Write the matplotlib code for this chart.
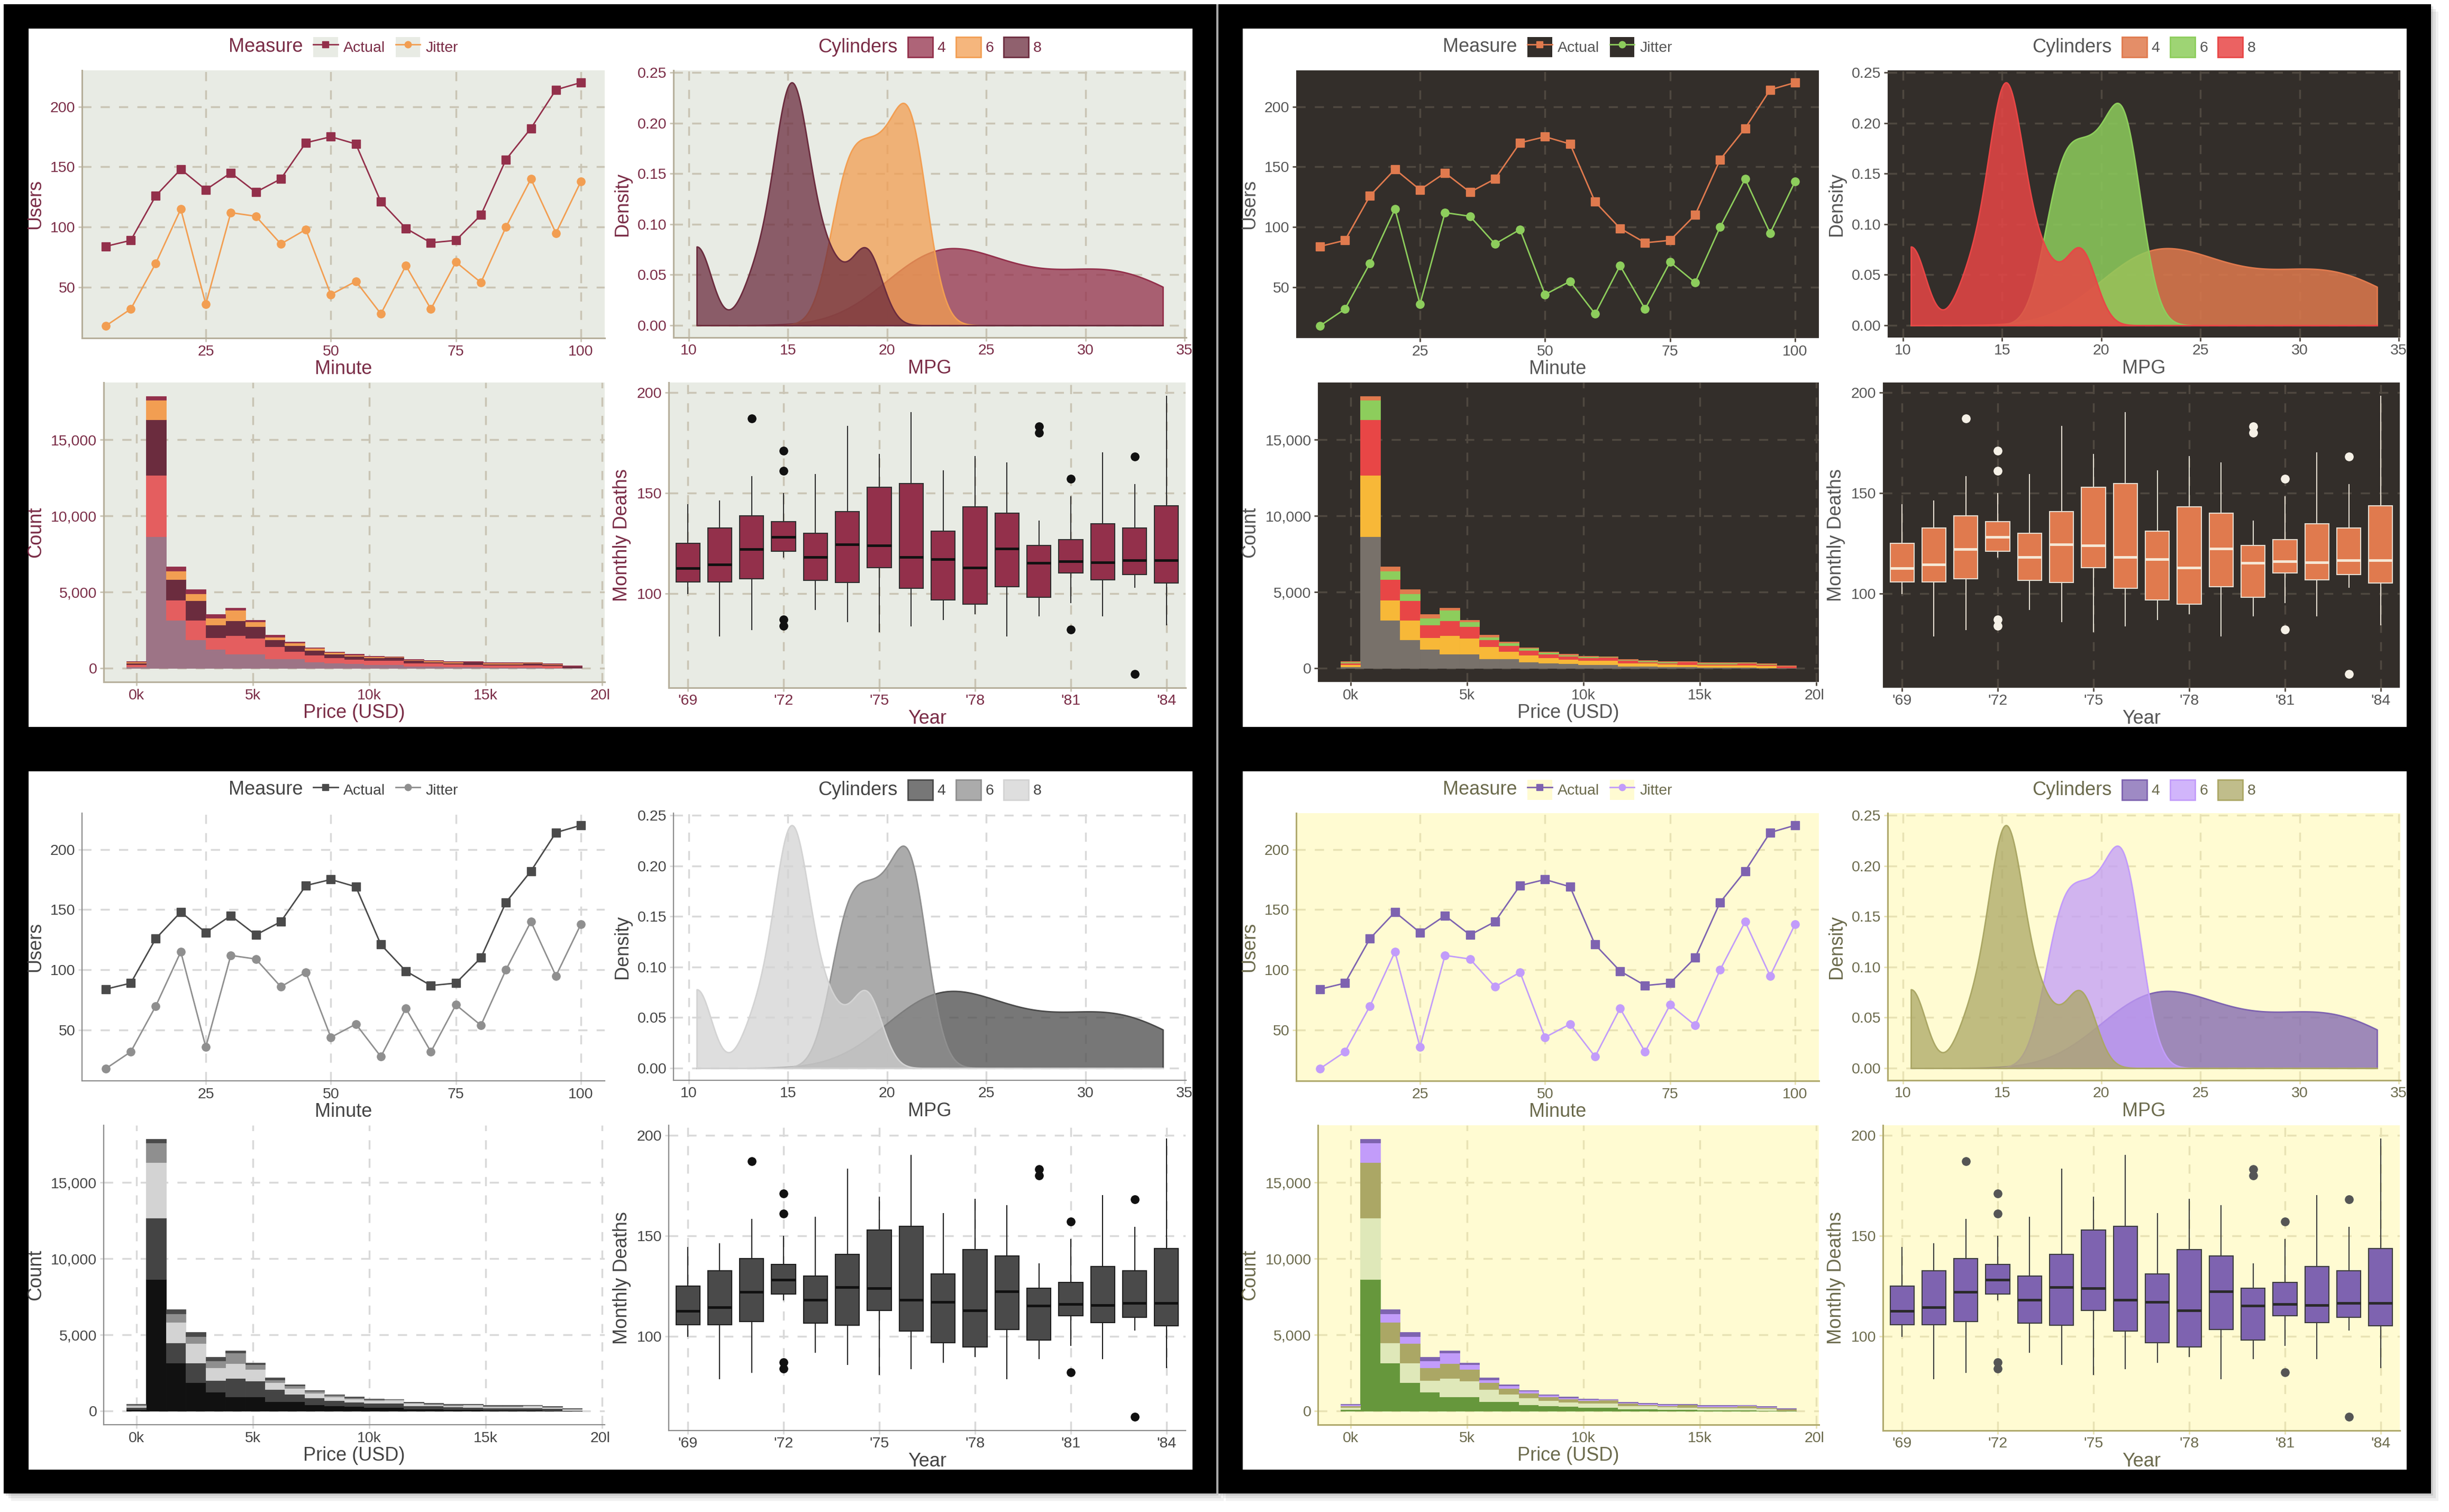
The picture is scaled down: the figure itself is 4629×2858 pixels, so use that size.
import numpy as np
import matplotlib
matplotlib.use("Agg")
import matplotlib.pyplot as plt
from matplotlib import mlab
from matplotlib.patches import Rectangle
from matplotlib.lines import Line2D
from matplotlib.colors import to_rgba
from matplotlib.ticker import FuncFormatter

plt.rcParams['font.family'] = ['Liberation Sans', 'DejaVu Sans']

# ---- line chart: users per minute ----
minutes = [5, 10, 15, 20, 25, 30, 35, 40, 45, 50, 55, 60, 65, 70, 75, 80, 85, 90, 95, 100]
actual_users = [84, 89, 126, 148, 131, 145, 129, 140, 170, 175, 169, 121, 99, 87, 89, 110, 156, 182, 214, 220]
jitter_users = [18, 32, 70, 115, 36, 112, 109, 86, 98, 44, 55, 28, 68, 32, 71, 54, 100, 140, 95, 138]
measure_labels = ['Actual', 'Jitter']

# ---- density: mtcars mpg by cylinders ----
mpg_4cyl = [22.8, 24.4, 22.8, 32.4, 30.4, 33.9, 21.5, 27.3, 26.0, 30.4, 21.4]
mpg_6cyl = [21.0, 21.0, 21.4, 18.1, 19.2, 17.8, 19.7]
mpg_8cyl = [18.7, 14.3, 16.4, 17.3, 15.2, 10.4, 10.4, 14.7, 15.5, 15.2, 13.3, 19.2, 15.8, 15.0]
cyl_labels = ['4', '6', '8']

# ---- histogram: diamond prices, stacked by cut ----
price_bin_width = 850
price_bin_centers = [0, 850, 1700, 2550, 3400, 4250, 5100, 5950, 6800, 7650, 8500, 9350,
                     10200, 11050, 11900, 12750, 13600, 14450, 15300, 16150, 17000, 17850, 18700]
count_ideal = [110, 8650, 3170, 1870, 1250, 940, 940, 620, 620, 420, 340, 325,
               260, 260, 150, 140, 110, 110, 80, 80, 80, 60, 30]
count_premium = [150, 4040, 1320, 1290, 790, 1210, 1060, 800, 490, 460, 360, 275,
                 280, 280, 220, 200, 170, 150, 150, 150, 150, 140, 30]
count_very_good = [100, 3640, 1360, 1280, 810, 990, 760, 450, 390, 310, 230, 200,
                   160, 190, 170, 80, 90, 160, 60, 60, 110, 60, 80]
count_good = [60, 1270, 560, 470, 460, 680, 310, 200, 160, 130, 110, 80,
              60, 40, 40, 80, 60, 20, 70, 70, 40, 35, 20]
count_fair = [30, 260, 250, 260, 230, 130, 100, 130, 100, 40, 60, 60,
              40, 20, 20, 30, 20, 20, 30, 30, 20, 15, 10]

# ---- box plot: monthly driver deaths per year ----
years = [1969, 1970, 1971, 1972, 1973, 1974, 1975, 1976, 1977, 1978, 1979, 1980, 1981, 1982, 1983, 1984]
deaths_q1 = [105.8, 105.8, 107.2, 120.9, 106.4, 105.5, 112.8, 102.5, 96.9, 94.6, 103.4, 98.2, 110.1, 106.7, 109.3, 105.1]
deaths_med = [112.5, 114.5, 122.0, 128.0, 118.1, 124.5, 124.0, 118.1, 116.9, 112.8, 122.4, 115.1, 115.9, 115.4, 116.4, 116.4]
deaths_q3 = [124.8, 132.5, 138.7, 135.6, 129.8, 140.7, 152.9, 154.7, 130.9, 143.2, 140.0, 123.8, 126.7, 134.6, 132.5, 143.5]
deaths_whislo = [100, 79, 82, 118, 92, 86, 81, 84, 87, 90, 79, 89, 95.5, 89, 103, 84.4]
deaths_whishi = [144, 146, 158, 149.6, 159, 183, 169, 190, 161, 168, 165, 136, 148, 170, 154, 198]
deaths_outliers = [[], [], [187], [171, 161, 87, 84], [], [], [], [], [], [], [], [183, 180], [157, 82], [], [168, 60], []]

themes = [
    dict(panel='#E8EBE4', grid='#C9C4B4', axis='#B6AF9B', text='#7A2C46', spine_w=2.2,
         palette=['#93304B', '#F29E52', '#6B2C3E', '#E45E5F', '#9D7486'],
         box_edge='#2E2E2E', median='#111111', flier='#111111', alpha=0.75),
    dict(panel='#332E2A', grid='#4F4840', axis=None, text='#555555', spine_w=0,
         palette=['#E07A4E', '#8DCD5C', '#E84646', '#F7B838', '#78716A'],
         box_edge='#E6DDD0', median='#F6E8D6', flier='#F5F0E6', alpha=0.85),
    dict(panel='#FFFFFF', grid='#D9D9D9', axis='#8C8C8C', text='#444444', spine_w=1.6,
         palette=['#4A4A4A', '#8F8F8F', '#D3D3D3', '#444444', '#111111'],
         box_edge='#1E1E1E', median='#111111', flier='#111111', alpha=0.75),
    dict(panel='#FFFBD2', grid='#E8E2B4', axis='#B0AA6E', text='#6B6A4C', spine_w=2.2,
         palette=['#7E63B0', '#C29CFA', '#ABA765', '#DFE8B9', '#66973C'],
         box_edge='#3C3C3C', median='#2A2A2A', flier='#555555', alpha=0.75),
]

W, H = 4629, 2858
fig = plt.figure(figsize=(W / 100, H / 100), dpi=100, facecolor='white')


def frect(x, y, w, h):
    return [x / W, 1 - (y + h) / H, w / W, h / H]


def add_rect(x, y, w, h, color, z, alpha=1.0):
    r = Rectangle((x / W, 1 - (y + h) / H), w / W, h / H, transform=fig.transFigure,
                  facecolor=color, edgecolor='none', zorder=z, alpha=alpha)
    fig.add_artist(r)
    return r


# black frames with a soft shadow
for bx in (7, 2303):
    for off, a in ((14, 0.10), (9, 0.14), (4, 0.2)):
        add_rect(bx + off, 8 + off, 2292, 2815, '#777777', -30, alpha=a)
    add_rect(bx, 8, 2292, 2815, '#000000', -20)
add_rect(2299, 8, 4, 2815, '#A8A8A8', -19)

TICK_FS = 20.5
LABEL_FS = 26
GRID_LS = (0, (5, 5))


def mpg_density(values, grid):
    vals = np.asarray(values, dtype=float)
    q75, q25 = np.percentile(vals, [75, 25])
    sd = vals.std(ddof=1)
    bw = 0.9 * min(sd, (q75 - q25) / 1.34) * len(vals) ** -0.2
    kde = mlab.GaussianKDE(vals, bw_method=bw / sd)
    return kde.evaluate(grid)


def style_axes(ax, th):
    ax.set_facecolor(th['panel'])
    ax.use_sticky_edges = False
    ax.set_axisbelow(True)
    ax.grid(True, color=th['grid'], linestyle=GRID_LS, linewidth=2.5)
    for side in ('top', 'right'):
        ax.spines[side].set_visible(False)
    for side in ('left', 'bottom'):
        if th['axis']:
            ax.spines[side].set_color(th['axis'])
            ax.spines[side].set_linewidth(th['spine_w'])
        else:
            ax.spines[side].set_visible(False)
    ax.tick_params(labelsize=TICK_FS, labelcolor=th['text'], color=th['grid'],
                   length=5, width=2, pad=4)


def left_title(leg, th):
    vbox = leg.get_children()[0]
    title_box, handle_box = vbox.get_children()
    vbox._children = [handle_box]
    handle_box._children = [title_box] + list(handle_box.get_children())
    handle_box.align = 'center'
    handle_box.sep = 14
    leg.get_title().set_color(th['text'])


def draw_panel(x0, y0, th):
    pal = th['palette']
    add_rect(x0, y0, 2200, 1320, 'white', -10)

    # line chart
    ax1 = fig.add_axes(frect(x0 + 101, y0 + 79, 988, 506))
    style_axes(ax1, th)
    ax1.plot(minutes, actual_users, color=pal[0], lw=2, marker='s', markersize=11)
    ax1.plot(minutes, jitter_users, color=pal[1], lw=2, marker='o', markersize=11)
    ax1.set_xticks([25, 50, 75, 100])
    ax1.set_yticks([50, 100, 150, 200])
    ax1.set_xlabel('Minute', fontsize=LABEL_FS, color=th['text'], labelpad=2)
    ax1.set_ylabel('Users', fontsize=LABEL_FS, color=th['text'], labelpad=8)
    handles = [(Rectangle((0, 0), 1, 1, facecolor=th['panel'], edgecolor='none'),
                Line2D([], [], color=pal[0], lw=2, marker='s', markersize=9)),
               (Rectangle((0, 0), 1, 1, facecolor=th['panel'], edgecolor='none'),
                Line2D([], [], color=pal[1], lw=2, marker='o', markersize=9))]
    leg = ax1.legend(handles, measure_labels, loc='center', bbox_to_anchor=(0.5, 1.087),
                     ncol=2, frameon=False, fontsize=TICK_FS, title='Measure',
                     title_fontsize=LABEL_FS, handlelength=1.65, handleheight=1.65,
                     handletextpad=0.35, columnspacing=0.4, borderpad=0, labelcolor=th['text'])
    left_title(leg, th)

    # density
    ax2 = fig.add_axes(frect(x0 + 1219, y0 + 79, 969, 505))
    style_axes(ax2, th)
    all_mpg = mpg_4cyl + mpg_6cyl + mpg_8cyl
    grid = np.linspace(min(all_mpg), max(all_mpg), 512)
    keys = []
    for vals, col in zip([mpg_4cyl, mpg_6cyl, mpg_8cyl], pal[:3]):
        d = mpg_density(vals, grid)
        ax2.fill_between(grid, 0, d, facecolor=to_rgba(col, th['alpha']), edgecolor=col, linewidth=2)
        keys.append(Rectangle((0, 0), 1, 1, facecolor=to_rgba(col, th['alpha']), edgecolor=col, linewidth=2))
    ax2.set_xticks([10, 15, 20, 25, 30, 35])
    ax2.set_yticks([0, 0.05, 0.10, 0.15, 0.20, 0.25])
    ax2.yaxis.set_major_formatter(FuncFormatter(lambda v, p: f'{v:.2f}'))
    ax2.set_xlabel('MPG', fontsize=LABEL_FS, color=th['text'], labelpad=2)
    ax2.set_ylabel('Density', fontsize=LABEL_FS, color=th['text'], labelpad=8)
    leg2 = ax2.legend(keys, cyl_labels, loc='center', bbox_to_anchor=(0.5, 1.087),
                      ncol=3, frameon=False, fontsize=TICK_FS, title='Cylinders',
                      title_fontsize=LABEL_FS, handlelength=1.65, handleheight=1.65,
                      handletextpad=0.3, columnspacing=0.4, borderpad=0, labelcolor=th['text'])
    left_title(leg2, th)

    # stacked histogram
    ax3 = fig.add_axes(frect(x0 + 142, y0 + 669, 947, 566))
    style_axes(ax3, th)
    layers = [count_ideal, count_premium, count_very_good, count_good, count_fair]
    colors = [pal[4], pal[3], pal[2], pal[1], pal[0]]
    bottom = np.zeros(len(price_bin_centers))
    for cnt, col in zip(layers, colors):
        ax3.bar(price_bin_centers, cnt, width=price_bin_width, bottom=bottom, color=col,
                edgecolor=col, linewidth=0.6)
        bottom += np.asarray(cnt)
    ax3.set_xticks([0, 5000, 10000, 15000, 20000])
    ax3.set_yticks([0, 5000, 10000, 15000])
    ax3.xaxis.set_major_formatter(FuncFormatter(lambda v, p: f'{v / 1000:.0f}k'))
    ax3.yaxis.set_major_formatter(FuncFormatter(lambda v, p: f'{v:,.0f}'))
    ax3.set_xlabel('Price (USD)', fontsize=LABEL_FS, color=th['text'], labelpad=2)
    ax3.set_ylabel('Count', fontsize=LABEL_FS, color=th['text'], labelpad=8)

    # box plot
    ax4 = fig.add_axes(frect(x0 + 1210, y0 + 669, 977, 577))
    style_axes(ax4, th)
    stats = [dict(med=m, q1=a, q3=b, whislo=lo, whishi=hi, fliers=f)
             for m, a, b, lo, hi, f in zip(deaths_med, deaths_q1, deaths_q3,
                                           deaths_whislo, deaths_whishi, deaths_outliers)]
    ax4.bxp(stats, positions=years, widths=0.75, patch_artist=True, showcaps=False,
            manage_ticks=False,
            boxprops=dict(facecolor=pal[0], edgecolor=th['box_edge'], linewidth=1.5),
            medianprops=dict(color=th['median'], linewidth=3.5),
            whiskerprops=dict(color=th['box_edge'], linewidth=1.5),
            flierprops=dict(marker='o', markerfacecolor=th['flier'], markeredgecolor=th['flier'],
                            markersize=11))
    ax4.set_xlim(years[0] - 0.6, years[-1] + 0.6)
    ax4.margins(y=0.05)
    ax4.autoscale_view()
    ax4.set_xticks([1969, 1972, 1975, 1978, 1981, 1984])
    ax4.set_yticks([100, 150, 200])
    ax4.xaxis.set_major_formatter(FuncFormatter(lambda v, p: "'" + f'{int(round(v)) % 100:02d}'))
    ax4.set_xlabel('Year', fontsize=LABEL_FS, color=th['text'], labelpad=2)
    ax4.set_ylabel('Monthly Deaths', fontsize=LABEL_FS, color=th['text'], labelpad=8)

    # each chart was its own picture: cut tick labels at the cell edges
    cells = [(ax1, 0, 0), (ax2, 1103, 0), (ax3, 0, 640), (ax4, 1103, 640)]
    for ax, cx, cy in cells:
        clip = Rectangle(((x0 + cx) / W, 1 - (y0 + cy + 680) / H), 1097 / W, 680 / H,
                         transform=fig.transFigure)
        for lab in ax.get_xticklabels() + ax.get_yticklabels():
            lab.set_clip_on(True)
            lab.set_clip_path(clip)


origins = [(54, 54), (2349, 54), (54, 1458), (2349, 1458)]
for (px, py), th in zip(origins, themes):
    draw_panel(px, py, th)

fig.savefig('out.png', dpi=100, facecolor='white')
